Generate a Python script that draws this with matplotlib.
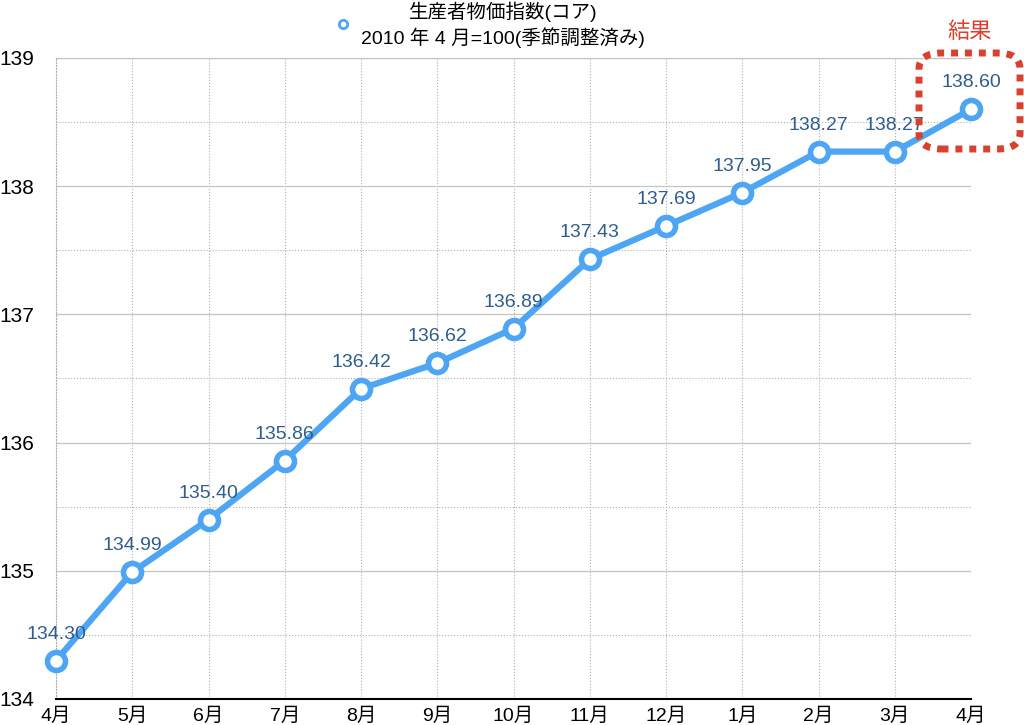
import matplotlib
matplotlib.use('Agg')
import matplotlib.pyplot as plt
from matplotlib.patches import FancyBboxPatch
from matplotlib.lines import Line2D

plt.rcParams['font.family'] = ['Liberation Sans', 'Noto Sans CJK JP', 'DejaVu Sans']

# data
months = ['4月', '5月', '6月', '7月', '8月', '9月', '10月', '11月', '12月', '1月', '2月', '3月', '4月']
values = [134.30, 134.99, 135.40, 135.86, 136.42, 136.62, 136.89, 137.43, 137.69, 137.95, 138.27, 138.27, 138.60]
legend_text = '生産者物価指数(コア)\n2010 年 4 月=100(季節調整済み)'
note_text = '結果'

line_c = '#4ea5f3'
label_c = '#2f5d8c'
red_c = '#d9412e'

fig = plt.figure(figsize=(10.24, 7.25), dpi=100)
ax = fig.add_axes([56 / 1024, 1 - 699 / 725, (971 - 56) / 1024, (699 - 58) / 725])

x = list(range(len(months)))
ax.plot(x, values, color=line_c, lw=4.5, marker='o', ms=13, mfc='white',
        mec=line_c, mew=4, zorder=5, clip_on=False)

for xi, v in zip(x, values):
    ax.annotate('{:.2f}'.format(v), (xi, v), xytext=(0, 19), textcoords='offset points',
                ha='center', va='center', fontsize=14, color=label_c, zorder=6)

ax.set_xlim(0, len(months) - 1)
ax.set_ylim(134, 139)
ax.set_xticks(x)
ax.set_xticklabels(months, fontsize=14)
ax.set_yticks([134, 135, 136, 137, 138, 139])
ax.set_yticks([134.5, 135.5, 136.5, 137.5, 138.5], minor=True)
ax.tick_params(axis='both', which='both', length=0)
ax.tick_params(axis='y', labelsize=15, pad=16)
ax.tick_params(axis='x', pad=6)

ax.grid(True, which='major', axis='y', color='#c4c4c4', ls='-', lw=0.9)
ax.grid(True, which='minor', axis='y', color='#b0b0b0', ls=':', lw=0.8)
ax.grid(True, which='major', axis='x', color='#b0b0b0', ls=':', lw=0.8)
ax.set_axisbelow(True)

ax.spines['top'].set_color('#c4c4c4')
ax.spines['left'].set_color('#b0b0b0')
ax.spines['left'].set_linestyle(':')
ax.spines['right'].set_visible(False)
ax.spines['bottom'].set_color('black')
ax.spines['bottom'].set_linewidth(1.5)

# legend
handle = Line2D([], [], color='none', marker='o', ms=6, mfc='white', mec=line_c, mew=2)
leg = fig.legend([handle], [legend_text], loc='upper center', bbox_to_anchor=(0.475, 1.022),
                 frameon=False, fontsize=14, handletextpad=0.2, handlelength=1.5)
for t in leg.get_texts():
    t.set_multialignment('center')
    t.set_linespacing(1.3)

# highlight the latest value
box = FancyBboxPatch((919 / 1024, 1 - 149 / 725), 101 / 1024, 96 / 725,
                     boxstyle='round,pad=0,rounding_size=0.022',
                     transform=fig.transFigure, fill=False, ec=red_c,
                     lw=5, ls=(0, (1, 1)), zorder=10)
fig.patches.append(box)
fig.text(970 / 1024, 1 - 32 / 725, note_text, ha='center', va='center',
         fontsize=16, color=red_c)

fig.savefig('out.png', dpi=100)
